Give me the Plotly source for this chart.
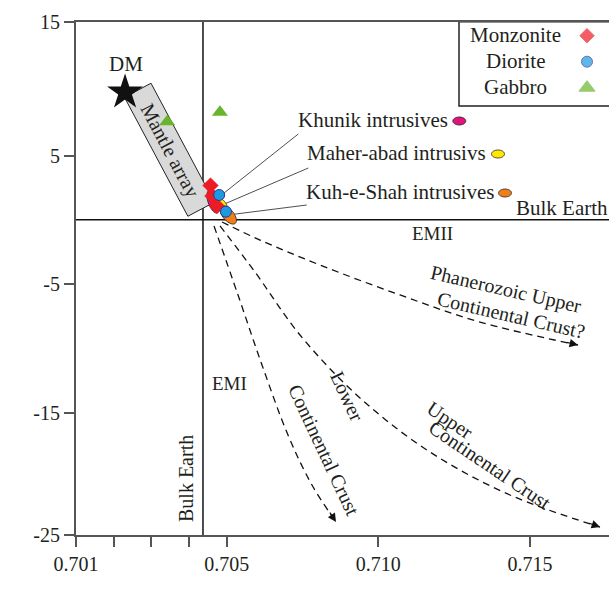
import numpy as np
import plotly.graph_objects as go

# ---------------- data ----------------
X_TICKS = [0.701, 0.702, 0.703, 0.704, 0.705, 0.710, 0.715]
X_TICK_TEXT = ["0.701", "", "", "", "0.705", "0.710", "0.715"]
Y_TICKS = [15, 5, -5, -15, -25]
Y_TICK_TEXT = ["15", "5", "-5", "-15", "-25"]

monzonite_sr = [0.70457, 0.70462, 0.70474]
monzonite_nd = [2.67, 1.85, 1.07]
diorite_sr = [0.70480, 0.70498]
diorite_nd = [1.93, 0.63]
gabbro_sr = [0.70342, 0.70482]
gabbro_nd = [7.54, 8.26]
dm_sr = [0.70230]
dm_nd = [9.75]

bulk_earth_sr = 0.70437
bulk_earth_nd = 0.0

field_names = ["Khunik intrusives", "Maher-abad intrusivs", "Kuh-e-Shah intrusives"]
field_sr = [0.70464, 0.70488, 0.70505]
field_nd = [1.41, 1.15, 0.37]
field_colors = ["#e2137d", "#ffe800", "#ee7f1a"]

mantle_sr = [0.702989, 0.702286, 0.703969, 0.704673]
mantle_nd = [10.43, 9.37, 0.27, 1.37]

lower_cc_sr = [0.704663, 0.705373, 0.706164, 0.707022, 0.707813, 0.708605]
lower_cc_nd = [-0.49, -5.87, -11.27, -16.79, -20.91, -23.95]
upper_cc_sr = [0.704822, 0.705933, 0.707418, 0.709396, 0.711705, 0.714344, 0.717312]
upper_cc_nd = [-0.49, -4.09, -8.96, -13.82, -18.19, -21.73, -24.37]
phan_sr = [0.704875, 0.706098, 0.708077, 0.710716, 0.713354, 0.716586]
phan_nd = [-0.18, -1.59, -3.54, -5.87, -7.96, -9.73]

# ------------- axis calibration (the original axes are not uniform) -------------
SR_KNOTS = [0.701, 0.705, 0.720]
SR_POS = [76.1, 226.7, 681.5]
ND_KNOTS = [-25, -15, -5, 5, 15]
ND_POS = [534.7, 413.3, 283.7, 155.7, 22.2]


def fx(v):
    return np.interp(np.asarray(v, dtype=float), SR_KNOTS, SR_POS)


def fy(v):
    return np.interp(np.asarray(v, dtype=float), ND_KNOTS, ND_POS)


FONT = "Liberation Serif"
TXT = "#231f20"
AX = "#555555"
RED = "#ec1c24"
BLUE = "#1b9ae2"
GREEN = "#6ab42d"

fig = go.Figure()
shapes = []
annotations = []


def ellipse_path(cx, cy, a, b, ang):
    t = np.linspace(0, 2 * np.pi, 48)
    th = np.radians(ang)
    xs = cx + a * np.cos(t) * np.cos(th) - b * np.sin(t) * np.sin(th)
    ys = cy + a * np.cos(t) * np.sin(th) + b * np.sin(t) * np.cos(th)
    return "M " + " L ".join(f"{x:.2f},{y:.2f}" for x, y in zip(xs, ys)) + " Z"


# legend box
shapes.append(dict(type="rect", xref="x", yref="y", x0=459, x1=620, y0=21.7, y1=106,
                   line=dict(color="#222", width=1.5), fillcolor="white", layer="below"))

# mantle array
mx, my = fx(mantle_sr), fy(mantle_nd)
path = "M " + " L ".join(f"{a:.2f},{b:.2f}" for a, b in zip(mx, my)) + " Z"
shapes.append(dict(type="path", xref="x", yref="y", path=path, fillcolor="#d9d9d9",
                   line=dict(color="#222", width=1), layer="below"))

# bulk earth lines
shapes.append(dict(type="line", xref="paper", yref="y", x0=0, x1=1,
                   y0=float(fy(bulk_earth_nd)), y1=float(fy(bulk_earth_nd)),
                   line=dict(color="#111", width=1.5), layer="below"))
shapes.append(dict(type="line", xref="x", yref="paper", x0=float(fx(bulk_earth_sr)),
                   x1=float(fx(bulk_earth_sr)), y0=0, y1=1,
                   line=dict(color="#111", width=1.5), layer="below"))

# leader lines
label_starts = [(298.3, 134), (308.3, 168), (306.7, 205)]
for (sx, sy), s, n in zip(label_starts, field_sr, field_nd):
    shapes.append(dict(type="line", xref="x", yref="y", x0=sx, y0=sy,
                       x1=float(fx(s)), y1=float(fy(n)),
                       line=dict(color="#222", width=0.8), layer="below"))

# fields in the cluster
field_geom = [(12, 5, 70), (8, 4, 55), (11, 5.5, 50)]
for s, n, c, (a, b, ang) in zip(field_sr, field_nd, field_colors, field_geom):
    shapes.append(dict(type="path", xref="x", yref="y",
                       path=ellipse_path(float(fx(s)), float(fy(n)), a, b, ang),
                       fillcolor=c, line=dict(color="#222", width=0.8), layer="below"))

# field keys next to the labels
key_pos = [(459.3, 121), (498, 154), (505, 193)]
for (kx, ky), c in zip(key_pos, field_colors):
    shapes.append(dict(type="path", xref="x", yref="y",
                       path=ellipse_path(kx, ky, 6.5, 4, 0),
                       fillcolor=c, line=dict(color="#222", width=0.8), layer="below"))

# dashed trend curves with arrow heads
for sr, nd in [(lower_cc_sr, lower_cc_nd), (upper_cc_sr, upper_cc_nd), (phan_sr, phan_nd)]:
    xs, ys = fx(sr), fy(nd)
    fig.add_trace(go.Scatter(x=xs, y=ys, mode="lines",
                             line=dict(color="#111", width=1.3, dash="7px,5px", shape="spline"),
                             hoverinfo="skip", showlegend=False))
    dx, dy = xs[-1] - xs[-2], ys[-1] - ys[-2]
    L = np.hypot(dx, dy)
    annotations.append(dict(x=float(xs[-1]), y=float(ys[-1]), ax=float(xs[-1] - 13 * dx / L),
                            ay=float(ys[-1] - 13 * dy / L), axref="x", ayref="y", xref="x", yref="y",
                            text="", showarrow=True, arrowhead=2, arrowsize=1.4,
                            arrowwidth=1.2, arrowcolor="#111", standoff=0))

# markers
fig.add_trace(go.Scatter(x=fx(dm_sr), y=fy(dm_nd), mode="markers",
                         marker=dict(symbol="star", size=27, color="#111"), showlegend=False))
fig.add_trace(go.Scatter(x=fx(gabbro_sr), y=fy(gabbro_nd), mode="markers",
                         marker=dict(symbol="triangle-up", size=14, color=GREEN), showlegend=False))
fig.add_trace(go.Scatter(x=fx(monzonite_sr), y=fy(monzonite_nd), mode="markers",
                         marker=dict(symbol="diamond", size=12, color=RED,
                                     line=dict(color=RED, width=0.5)), showlegend=False))
fig.add_trace(go.Scatter(x=fx(diorite_sr), y=fy(diorite_nd), mode="markers",
                         marker=dict(symbol="circle", size=11, color=BLUE,
                                     line=dict(color="#2b3990", width=1)), showlegend=False))

# legend keys
LEG_X = 587
LEG_Y = [35.7, 61.7, 87.7]
fig.add_trace(go.Scatter(x=[LEG_X] * 3, y=LEG_Y, mode="markers",
                         marker=dict(symbol=["diamond", "circle", "triangle-up"], size=[11, 11, 14],
                                     color=[RED, BLUE, GREEN],
                                     line=dict(color=[RED, "#2b3990", GREEN], width=1)),
                         showlegend=False, hoverinfo="skip"))


def txt(x, y, s, size=21, angle=0, xanchor="center"):
    annotations.append(dict(x=x, y=y, xref="x", yref="y", text=s, showarrow=False,
                            textangle=angle, xanchor=xanchor, yanchor="middle",
                            font=dict(family=FONT, size=size, color=TXT)))


for s, y in zip(["Monzonite", "Diorite", "Gabbro"], LEG_Y):
    txt(515, y - 1, s, size=21)

txt(126, 64, "DM", 21)
txt(170, 150, "Mantle array", 20, angle=62)
txt(296, 120, field_names[0], 21, xanchor="left")
txt(305, 153, field_names[1], 21, xanchor="left")
txt(304, 192, field_names[2], 21, xanchor="left")
txt(562, 208, "Bulk Earth", 21)
txt(432, 233, "EMII", 19)
txt(229, 383, "EMI", 19)
txt(186, 479, "Bulk Earth", 20, angle=-90)
txt(506, 289, "Phanerozoic Upper", 20, angle=13)
txt(511, 315, "Continental Crust?", 20, angle=13)
txt(450, 420, "Upper", 20, angle=34)
txt(490, 465, "Continental Crust", 20, angle=34)
txt(347, 396, "Lower", 20, angle=65)
txt(324, 450, "Continental Crust", 20, angle=65)
txt(314, 588, "(<sup>87</sup>Sr/ <sup>86</sup>Sr)i", 20)
txt(27, 282, "(<b>ɛ</b>Nd)i", 20, angle=-90)

fig.update_layout(
    width=609, height=599,
    margin=dict(l=76, r=0, t=22, b=64),
    paper_bgcolor="white", plot_bgcolor="white",
    shapes=shapes, annotations=annotations,
    showlegend=False,
    xaxis=dict(range=[76, 609], tickvals=fx(X_TICKS), ticktext=X_TICK_TEXT,
               ticks="outside", ticklen=10, tickwidth=1.5, tickcolor=AX,
               showline=True, linecolor=AX, linewidth=2, mirror=True,
               showgrid=False, zeroline=False, ticklabelstandoff=0,
               tickfont=dict(family=FONT, size=20, color=TXT)),
    yaxis=dict(range=[535, 22], tickvals=fy(Y_TICKS), ticktext=Y_TICK_TEXT,
               ticks="outside", ticklen=10, tickwidth=1.5, tickcolor=AX,
               showline=True, linecolor=AX, linewidth=2, mirror=False,
               showgrid=False, zeroline=False,
               tickfont=dict(family=FONT, size=20, color=TXT)),
)

fig.write_html("out.html")
